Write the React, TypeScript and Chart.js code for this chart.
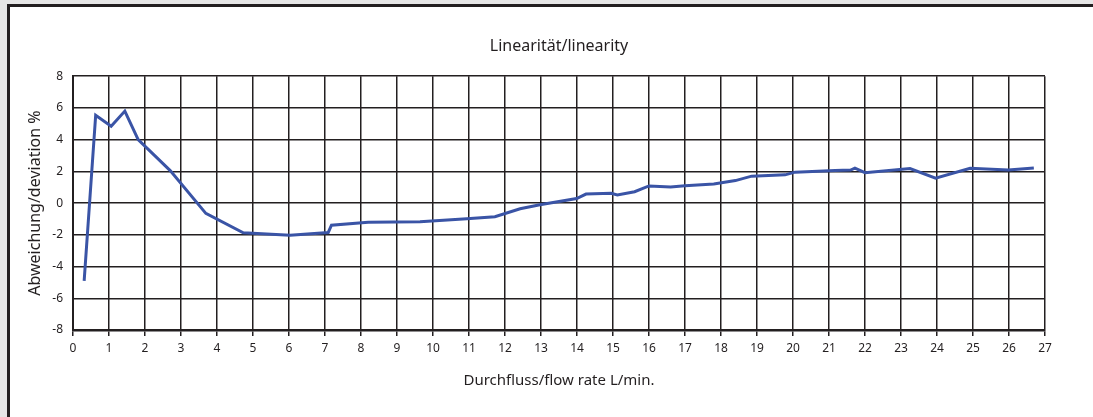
import React, { useEffect, useRef } from "react";
import { Chart, registerables } from "chart.js";

Chart.register(...registerables);

const flowRate: number[] = [
  0.31, 0.63, 1.06, 1.44, 1.81, 2.7, 3.69, 4.73, 6.03, 7.09, 7.18, 8.2, 9.64,
  10.94, 11.72, 12.42, 12.97, 13.99, 14.25, 14.95, 15.12, 15.6, 16.0, 16.6,
  17.0, 17.8, 18.4, 18.85, 19.78, 20.06, 21.17, 21.6, 21.72, 22.0, 23.25,
  23.96, 24.92, 25.98, 26.69,
];
const deviation: number[] = [
  -4.9, 5.54, 4.85, 5.8, 4.0, 2.05, -0.65, -1.87, -2.02, -1.85, -1.39, -1.2,
  -1.18, -0.99, -0.86, -0.36, -0.1, 0.29, 0.57, 0.62, 0.52, 0.72, 1.08, 1.02,
  1.1, 1.2, 1.42, 1.7, 1.78, 1.95, 2.05, 2.08, 2.2, 1.92, 2.18, 1.57, 2.2,
  2.08, 2.22,
];
const yTicks: number[] = [-8, -6, -4, -2, 0, 2, 4, 6, 8];

const chartTitle = "Linearität/linearity";
const xTitle = "Durchfluss/flow rate L/min.";
const yTitle = "Abweichung/deviation %";

const INK = "#231f20";
const FONT = "'Noto Sans', 'DejaVu Sans', sans-serif";

export default function App() {
  const canvasRef = useRef<HTMLCanvasElement | null>(null);

  useEffect(() => {
    if (!canvasRef.current) return;
    const chart = new Chart(canvasRef.current, {
      type: "line",
      data: {
        datasets: [
          {
            data: flowRate.map((x, i) => ({ x, y: deviation[i] })),
            borderColor: "#3a54a6",
            borderWidth: 3,
            pointRadius: 0,
            tension: 0,
            fill: false,
          },
        ],
      },
      options: {
        animation: false,
        responsive: false,
        maintainAspectRatio: false,
        layout: { padding: { left: 0, right: 48, top: 0, bottom: 0 } },
        plugins: {
          legend: { display: false },
          tooltip: { enabled: false },
          title: {
            display: true,
            fullSize: false,
            text: chartTitle,
            color: INK,
            font: { family: FONT, size: 16, weight: "normal" },
            padding: { top: 37, bottom: 20 },
          },
        },
        scales: {
          x: {
            type: "linear",
            min: 0,
            max: 27,
            afterFit: (scale: any) => {
              scale.height = 87;
            },
            ticks: {
              stepSize: 1,
              color: INK,
              font: { family: FONT, size: 12 },
              padding: 5,
              maxRotation: 0,
              autoSkip: false,
            },
            grid: {
              color: INK,
              lineWidth: 1.5,
              drawTicks: true,
              tickLength: 6,
              tickColor: INK,
            },
            border: { color: INK, width: 2.5 },
            title: {
              display: true,
              text: xTitle,
              color: INK,
              font: { family: FONT, size: 15 },
              padding: { top: 0, bottom: 27 },
            },
          },
          y: {
            type: "linear",
            min: -8,
            max: 8,
            afterFit: (scale: any) => {
              scale.width = 73;
            },
            afterBuildTicks: (scale: any) => {
              scale.ticks = yTicks.map((v) => ({ value: v }));
            },
            ticks: {
              color: INK,
              font: { family: FONT, size: 12 },
              padding: 10,
            },
            grid: {
              color: INK,
              lineWidth: 1.5,
              drawTicks: false,
            },
            border: { color: INK, width: 2 },
            title: {
              display: true,
              text: yTitle,
              color: INK,
              font: { family: FONT, size: 16 },
              padding: { top: 26, bottom: 0 },
            },
          },
        },
      },
    });
    return () => chart.destroy();
  }, []);

  return (
    <div
      style={{
        position: "absolute",
        left: 0,
        top: 0,
        width: 1093,
        height: 417,
        overflow: "hidden",
        background: "#e6e6e6",
      }}
    >
      <div
        style={{
          position: "absolute",
          left: 7,
          top: 4,
          width: 1200,
          height: 500,
          background: "#ffffff",
          borderTop: `3px solid ${INK}`,
          borderLeft: `3px solid ${INK}`,
        }}
      />
      <canvas
        ref={canvasRef}
        width={1093}
        height={417}
        style={{ position: "absolute", left: 0, top: 0, width: 1093, height: 417 }}
      />
    </div>
  );
}
